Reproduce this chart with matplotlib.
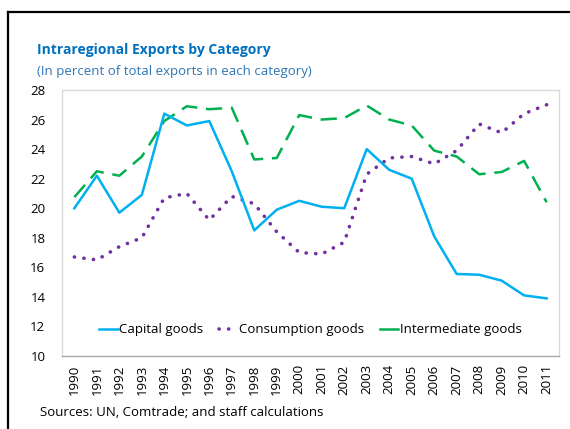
import matplotlib
matplotlib.use("Agg")
import matplotlib.pyplot as plt
from matplotlib.lines import Line2D

years = list(range(1990, 2012))
capital = [20.0, 22.2, 19.7, 20.9, 26.4, 25.6, 25.9, 22.5, 18.5, 19.9, 20.5,
           20.1, 20.0, 24.0, 22.6, 22.0, 18.1, 15.55, 15.5, 15.1, 14.1, 13.9]
consumption = [16.7, 16.5, 17.4, 18.0, 20.7, 21.0, 19.2, 20.8, 20.3, 18.4, 17.0,
               16.9, 17.7, 22.3, 23.4, 23.5, 23.0, 23.9, 25.7, 25.1, 26.4, 27.0]
intermediate = [20.75, 22.5, 22.2, 23.5, 25.9, 26.9, 26.7, 26.8, 23.3, 23.4, 26.3,
                26.0, 26.1, 26.95, 26.0, 25.6, 23.9, 23.5, 22.3, 22.45, 23.2, 20.4]
series_names = ["Capital goods", "Consumption goods", "Intermediate goods"]
yticks = [10, 12, 14, 16, 18, 20, 22, 24, 26, 28]

plt.rcParams['font.family'] = ['Open Sans', 'DejaVu Sans']

fig = plt.figure(figsize=(5.70, 4.29), dpi=100)
ax = fig.add_axes([62/570, 1-356/429, (559-62)/570, (356-90)/429])

c_cap = "#00B0F0"
c_con = "#7030A0"
c_int = "#00B050"
dot_style = (0, (0.05, 2.6))

ax.plot(years, intermediate, color=c_int, lw=1.8, dashes=(6.5, 3.5), label=series_names[2])
ax.plot(years, consumption, color=c_con, lw=2.6, linestyle=dot_style,
        dash_capstyle='round', label=series_names[1])
ax.plot(years, capital, color=c_cap, lw=1.8, label=series_names[0])

ax.set_xlim(1989.45, 2011.55)
ax.set_ylim(10, 28)
ax.set_yticks(yticks)
ax.set_xticks(years)
ax.set_xticklabels([str(y) for y in years], rotation=90, fontsize=9.5)
ax.tick_params(axis='y', labelsize=9.5, length=0, pad=12)
ax.tick_params(axis='x', length=0, pad=6)
for s in ax.spines.values():
    s.set_color("#D9D9D9")
    s.set_linewidth(1)
ax.spines['bottom'].set_color("#A6A6A6")

handles = [Line2D([], [], color=c_cap, lw=1.8),
           Line2D([], [], color=c_con, lw=2.6, linestyle=dot_style, dash_capstyle='round'),
           Line2D([], [], color=c_int, lw=1.8)]
ax.legend(handles, series_names, loc='lower center', bbox_to_anchor=(0.5, 0.03),
          ncol=3, frameon=False, fontsize=9.5, handlelength=1.4, handletextpad=0.1,
          columnspacing=1.2)

fig.text(37/570, 1-50/429, "Intraregional Exports by Category", fontsize=10,
         fontweight='bold', color="#0070C0", va='center', ha='left')
fig.text(37/570, 1-71/429, "(In percent of total exports in each category)", fontsize=9.5,
         color="#2E75B6", va='center', ha='left')
fig.text(40/570, 1-413/429, "Sources: UN, Comtrade; and staff calculations", fontsize=9.5,
         color="black", va='center', ha='left')

fig.add_artist(Line2D([8/570, 8/570], [0, 1-12/429], transform=fig.transFigure,
                      color='black', lw=1.6))
fig.add_artist(Line2D([8/570, 1], [1-12/429, 1-12/429], transform=fig.transFigure,
                      color='black', lw=1.6))

fig.savefig("out.png", dpi=100)
